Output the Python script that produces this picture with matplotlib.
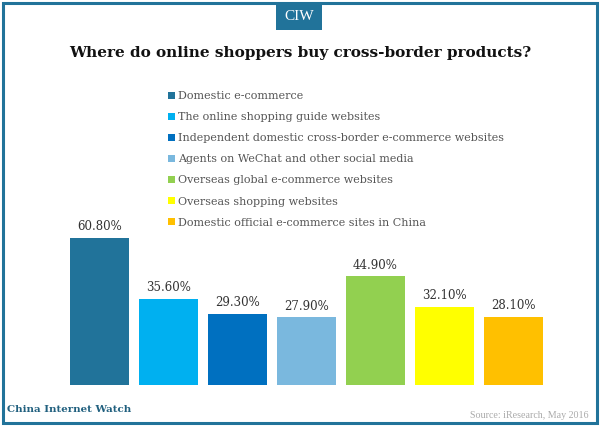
import matplotlib.pyplot as plt
from matplotlib.patches import Rectangle

categories = [
    "Domestic e-commerce",
    "The online shopping guide websites",
    "Independent domestic cross-border e-commerce websites",
    "Agents on WeChat and other social media",
    "Overseas global e-commerce websites",
    "Overseas shopping websites",
    "Domestic official e-commerce sites in China",
]
values = [60.8, 35.6, 29.3, 27.9, 44.9, 32.1, 28.1]
labels = ["60.80%", "35.60%", "29.30%", "27.90%", "44.90%", "32.10%", "28.10%"]
colors = ["#21739a", "#00b0f0", "#0070c0", "#7ab8de", "#92d050", "#ffff00", "#ffc000"]

SERIF = ["DejaVu Serif"]
W, H = 600, 426

fig = plt.figure(figsize=(6, 4.26), dpi=100)

# frame and CIW badge
fig.patches.append(Rectangle((3 / W, 3 / H), 594 / W, 420 / H, transform=fig.transFigure,
                             fill=False, edgecolor="#21739a", linewidth=2.2))
fig.patches.append(Rectangle((276 / W, 1 - 30 / H), 46 / W, 28 / H, transform=fig.transFigure,
                             facecolor="#21739a", edgecolor="none"))
fig.text(299 / W, 1 - 17 / H, "CIW", color="white", fontsize=11, family=["Liberation Serif"],
         ha="center", va="center")
fig.text(0.5, 1 - 53 / H, "Where do online shoppers buy cross-border products?",
         fontsize=11, weight="bold", family=SERIF, ha="center", va="center", color="#111111")

ax = fig.add_axes([65 / W, 1 - 385 / H, 483 / W, 242 / H])
x = range(len(values))
for i in x:
    ax.bar(i, values[i], width=0.855, color=colors[i], label=categories[i])
    ax.text(i, values[i] + 2, labels[i], ha="center", va="bottom", fontsize=8.5,
            family=SERIF, color="#333333")
ax.set_xlim(-0.5, len(values) - 0.5)
ax.set_ylim(0, 100)
ax.axis("off")

leg = fig.legend(loc="upper left", bbox_to_anchor=(158 / W, 1 - 81 / H), frameon=False,
                 handlelength=0.6, handleheight=0.6, handletextpad=0.3, labelspacing=1.0,
                 prop={"family": SERIF, "size": 8})
for t in leg.get_texts():
    t.set_color("#555555")

fig.text(7 / W, 1 - 410 / H, "China Internet Watch", fontsize=7.4, weight="bold",
         family=SERIF, color="#21607f", va="center")
fig.text(589 / W, 1 - 415 / H, "Source: iResearch, May 2016", fontsize=7.2,
         family=["Liberation Serif"], color="#aaaaaa", ha="right", va="center")

fig.savefig("out.png", dpi=100)
